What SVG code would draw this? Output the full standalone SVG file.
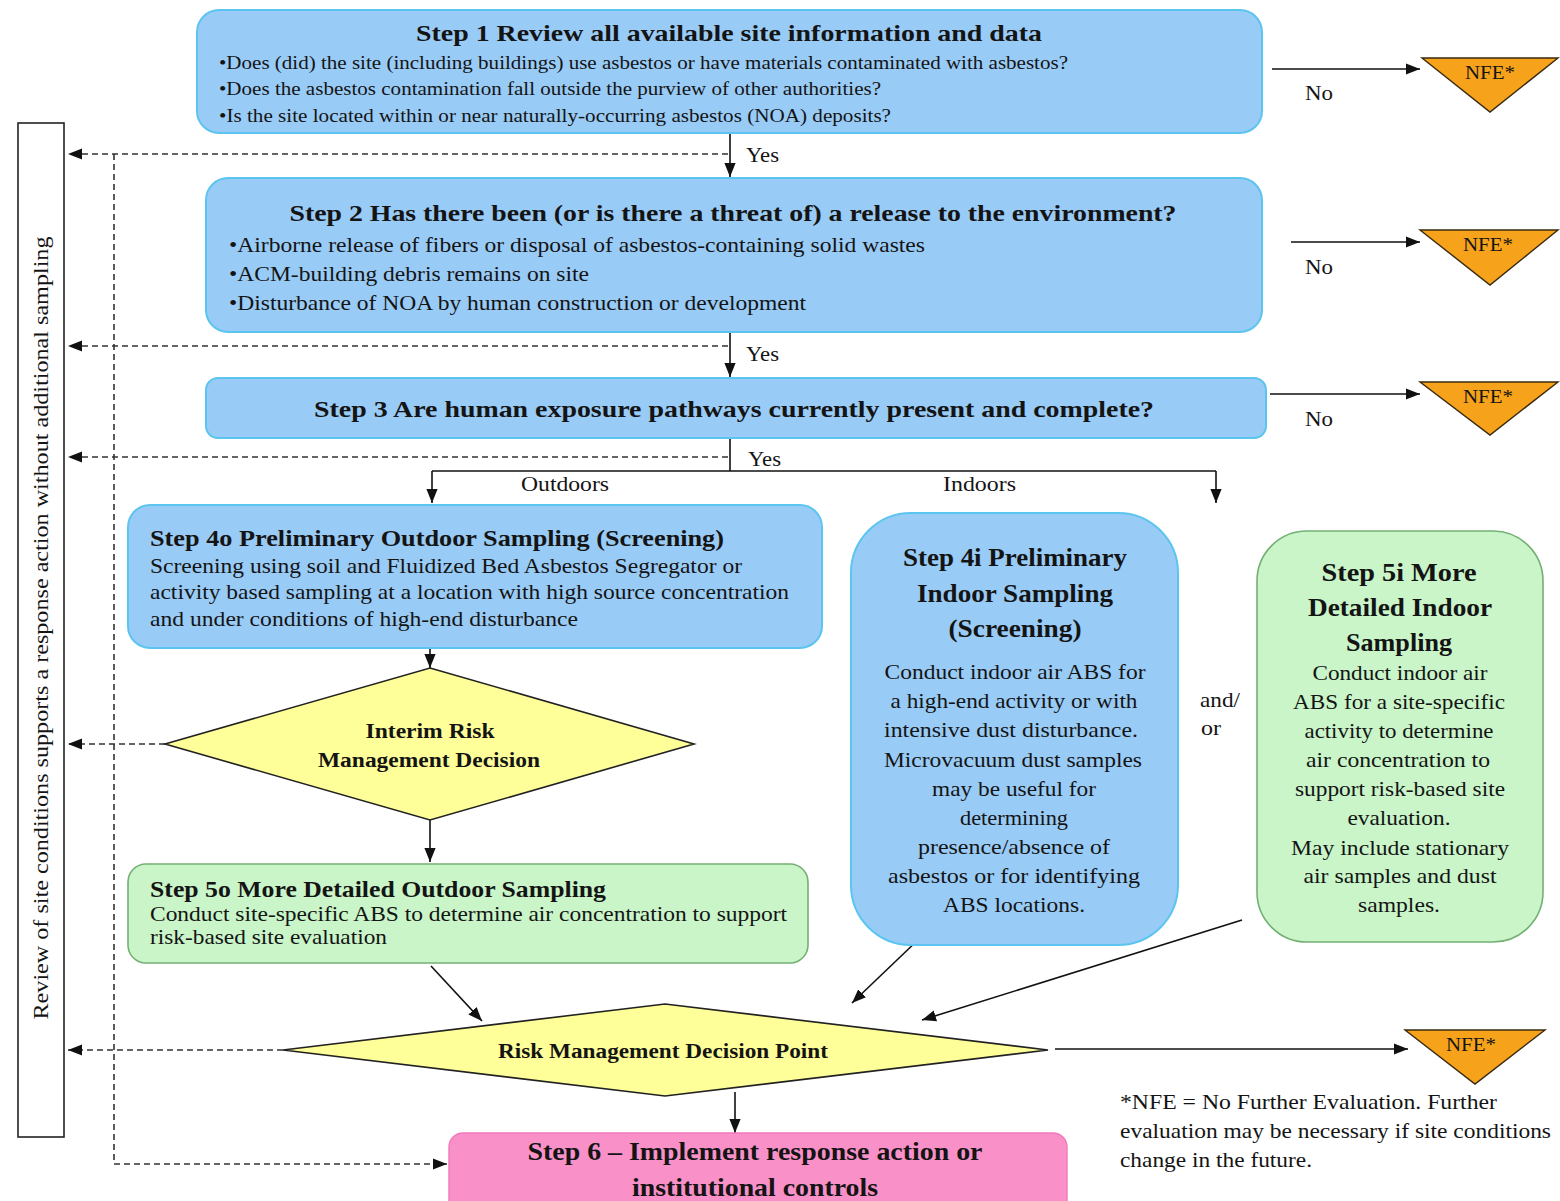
<svg xmlns="http://www.w3.org/2000/svg" width="1560" height="1201" viewBox="0 0 1560 1201" font-family="'Liberation Serif', 'DejaVu Serif', 'Times New Roman', serif">
<style>
text{font-family:'Liberation Serif','DejaVu Serif','Times New Roman',serif;fill:#141414}
.b{font-weight:bold}
.t{font-size:24px;font-weight:bold}
.s{font-size:19px}
.m{font-size:21px}
.c{text-anchor:middle}
.blue{fill:#99CBF7;stroke:#5CC5EF;stroke-width:2}
.green{fill:#C9F5C9;stroke:#74B074;stroke-width:1.6}
.dia{fill:#FFFF99;stroke:#222;stroke-width:1.6}
.nfe{fill:#F7A21B;stroke:#3a2a10;stroke-width:1.4}
.ln{fill:none;stroke:#111;stroke-width:1.6}
.dl{fill:none;stroke:#333;stroke-width:1.6;stroke-dasharray:6 4}
</style>
<defs>
<marker id="ah2" viewBox="0 0 10 10" refX="10" refY="5" markerWidth="14" markerHeight="14" markerUnits="userSpaceOnUse" orient="auto"><path d="M0,1 L10,5 L0,9 z" fill="#111"/></marker>
</defs>
<rect width="1560" height="1201" fill="#fff"/>

<g id="connectors">
<line class="ln" x1="1272" y1="69" x2="1420" y2="69" marker-end="url(#ah2)"/>
<line class="ln" x1="1291" y1="242" x2="1420" y2="242" marker-end="url(#ah2)"/>
<line class="ln" x1="1270" y1="394" x2="1420" y2="394" marker-end="url(#ah2)"/>
<line class="ln" x1="1055" y1="1049" x2="1408" y2="1049" marker-end="url(#ah2)"/>
<line class="ln" x1="730" y1="134" x2="730" y2="177" marker-end="url(#ah2)"/>
<line class="ln" x1="730" y1="333" x2="730" y2="377" marker-end="url(#ah2)"/>
<polyline class="ln" points="730,439 730,471"/>
<line class="ln" x1="432" y1="471" x2="1216" y2="471"/>
<line class="ln" x1="432" y1="471" x2="432" y2="503" marker-end="url(#ah2)"/>
<line class="ln" x1="1216" y1="471" x2="1216" y2="503" marker-end="url(#ah2)"/>
<line class="ln" x1="430" y1="649" x2="430" y2="668" marker-end="url(#ah2)"/>
<line class="ln" x1="430" y1="820" x2="430" y2="862" marker-end="url(#ah2)"/>
<line class="ln" x1="431" y1="966" x2="482" y2="1021" marker-end="url(#ah2)"/>
<line class="ln" x1="920" y1="938" x2="852" y2="1003" marker-end="url(#ah2)"/>
<line class="ln" x1="1242" y1="920" x2="922" y2="1020" marker-end="url(#ah2)"/>
<line class="ln" x1="735" y1="1092" x2="735" y2="1133" marker-end="url(#ah2)"/>
<line class="dl" x1="728" y1="154" x2="68" y2="154" marker-end="url(#ah2)"/>
<line class="dl" x1="728" y1="346" x2="68" y2="346" marker-end="url(#ah2)"/>
<line class="dl" x1="728" y1="457" x2="68" y2="457" marker-end="url(#ah2)"/>
<line class="dl" x1="165" y1="744" x2="68" y2="744" marker-end="url(#ah2)"/>
<line class="dl" x1="283" y1="1050" x2="68" y2="1050" marker-end="url(#ah2)"/>
<polyline class="dl" points="114,154 114,1164 447,1164" marker-end="url(#ah2)"/>
<text class="m" x="746" y="162" textLength="33" lengthAdjust="spacingAndGlyphs">Yes</text>
<text class="m" x="746" y="361" textLength="33" lengthAdjust="spacingAndGlyphs">Yes</text>
<text class="m" x="748" y="466" textLength="33" lengthAdjust="spacingAndGlyphs">Yes</text>
<text class="m" x="521" y="491" textLength="88" lengthAdjust="spacingAndGlyphs">Outdoors</text>
<text class="m" x="943" y="491" textLength="73" lengthAdjust="spacingAndGlyphs">Indoors</text>
<text class="m" x="1305" y="100" textLength="28" lengthAdjust="spacingAndGlyphs">No</text>
<text class="m" x="1305" y="274" textLength="28" lengthAdjust="spacingAndGlyphs">No</text>
<text class="m" x="1305" y="426" textLength="28" lengthAdjust="spacingAndGlyphs">No</text>
<text class="m" x="1200" y="707" textLength="40" lengthAdjust="spacingAndGlyphs">and/</text>
<text class="m" x="1201" y="735" textLength="20" lengthAdjust="spacingAndGlyphs">or</text>
</g>

<g id="review-box">
<rect x="18" y="123" width="46" height="1014" fill="#fff" stroke="#222" stroke-width="1.6"/>
<text class="m c" transform="translate(48,628) rotate(-90)" textLength="783" lengthAdjust="spacingAndGlyphs">Review  of  site conditions supports a response action without additional  sampling</text>
</g>

<g id="step1">
<rect class="blue" x="197" y="10" width="1065" height="123" rx="22"/>
<text class="t c" x="729" y="41" textLength="626" lengthAdjust="spacingAndGlyphs">Step 1 Review all available site information  and data</text>
<text class="s" x="219" y="69" textLength="849" lengthAdjust="spacingAndGlyphs">•Does (did) the site (including  buildings) use asbestos or have materials contaminated with asbestos?</text>
<text class="s" x="219" y="95" textLength="662" lengthAdjust="spacingAndGlyphs">•Does the asbestos contamination  fall outside the purview of other authorities?</text>
<text class="s" x="219" y="122" textLength="672" lengthAdjust="spacingAndGlyphs">•Is the site located within or near naturally-occurring  asbestos (NOA) deposits?</text>
</g>

<g id="step2">
<rect class="blue" x="206" y="178" width="1056" height="154" rx="22"/>
<text class="t c" x="733" y="221" textLength="887" lengthAdjust="spacingAndGlyphs">Step 2 Has there been (or is there a threat of) a release to the environment?</text>
<text class="m" x="229" y="252" textLength="696" lengthAdjust="spacingAndGlyphs">•Airborne release of fibers or disposal of asbestos-containing solid wastes</text>
<text class="m" x="229" y="281" textLength="360" lengthAdjust="spacingAndGlyphs">•ACM-building debris remains  on site</text>
<text class="m" x="229" y="310" textLength="577" lengthAdjust="spacingAndGlyphs">•Disturbance of NOA  by human construction or development</text>
</g>

<g id="step3">
<rect class="blue" x="206" y="378" width="1060" height="60" rx="12"/>
<text class="t c" x="734" y="417" textLength="840" lengthAdjust="spacingAndGlyphs">Step 3 Are human  exposure pathways  currently  present and complete?</text>
</g>

<g id="nfe1"><polygon class="nfe" points="1422,58 1558,58 1490,112"/><text class="s c" x="1490" y="79" textLength="50" lengthAdjust="spacingAndGlyphs">NFE*</text></g>
<g id="nfe2"><polygon class="nfe" points="1420,230 1558,230 1490,285"/><text class="s c" x="1488" y="251" textLength="50" lengthAdjust="spacingAndGlyphs">NFE*</text></g>
<g id="nfe3"><polygon class="nfe" points="1420,382 1558,382 1490,435"/><text class="s c" x="1488" y="403" textLength="50" lengthAdjust="spacingAndGlyphs">NFE*</text></g>
<g id="nfe4"><polygon class="nfe" points="1405,1030 1545,1030 1475,1084"/><text class="s c" x="1471" y="1051" textLength="50" lengthAdjust="spacingAndGlyphs">NFE*</text></g>

<g id="step4o">
<rect class="blue" x="128" y="505" width="694" height="143" rx="22"/>
<text class="b" x="150" y="546" font-size="24" textLength="574" lengthAdjust="spacingAndGlyphs">Step 4o  Preliminary Outdoor Sampling (Screening)</text>
<text class="m" x="150" y="573" textLength="592" lengthAdjust="spacingAndGlyphs">Screening  using soil and Fluidized  Bed  Asbestos Segregator or</text>
<text class="m" x="150" y="599" textLength="639" lengthAdjust="spacingAndGlyphs">activity based sampling at a location with high source concentration</text>
<text class="m" x="150" y="626" textLength="428" lengthAdjust="spacingAndGlyphs">and under conditions of high-end disturbance</text>
</g>

<g id="interim">
<polygon class="dia" points="430,668 694,744 430,820 165,744"/>
<text class="b c" x="430" y="738" font-size="20" textLength="129" lengthAdjust="spacingAndGlyphs">Interim  Risk</text>
<text class="b c" x="429" y="767" font-size="20" textLength="222" lengthAdjust="spacingAndGlyphs">Management  Decision</text>
</g>

<g id="step5o">
<rect class="green" x="128" y="864" width="680" height="99" rx="18"/>
<text class="b" x="150" y="897" font-size="24" textLength="456" lengthAdjust="spacingAndGlyphs">Step 5o More Detailed Outdoor Sampling</text>
<text class="m" x="150" y="921" textLength="637" lengthAdjust="spacingAndGlyphs">Conduct site-specific  ABS  to determine  air  concentration to support</text>
<text class="m" x="150" y="944" textLength="237" lengthAdjust="spacingAndGlyphs">risk-based site evaluation</text>
</g>

<g id="step4i">
<rect class="blue" x="851" y="513" width="327" height="432" rx="60"/>
<text class="b c" font-size="25" x="1015" y="566" textLength="224" lengthAdjust="spacingAndGlyphs">Step 4i Preliminary</text>
<text class="b c" font-size="25" x="1015" y="602" textLength="196" lengthAdjust="spacingAndGlyphs">Indoor  Sampling</text>
<text class="b c" font-size="25" x="1015" y="637" textLength="133" lengthAdjust="spacingAndGlyphs">(Screening)</text>
<text class="m c" x="1015" y="679" textLength="261" lengthAdjust="spacingAndGlyphs">Conduct indoor air ABS for</text>
<text class="m c" x="1014" y="708" textLength="247" lengthAdjust="spacingAndGlyphs">a high-end activity or with</text>
<text class="m c" x="1011" y="737" textLength="254" lengthAdjust="spacingAndGlyphs">intensive dust disturbance.</text>
<text class="m c" x="1013" y="767" textLength="258" lengthAdjust="spacingAndGlyphs">Microvacuum dust samples</text>
<text class="m c" x="1014" y="796" textLength="164" lengthAdjust="spacingAndGlyphs">may be useful for</text>
<text class="m c" x="1014" y="825" textLength="108" lengthAdjust="spacingAndGlyphs">determining</text>
<text class="m c" x="1014" y="854" textLength="192" lengthAdjust="spacingAndGlyphs">presence/absence of</text>
<text class="m c" x="1014" y="883" textLength="252" lengthAdjust="spacingAndGlyphs">asbestos or for identifying</text>
<text class="m c" x="1014" y="912" textLength="142" lengthAdjust="spacingAndGlyphs">ABS locations.</text>
</g>

<g id="step5i">
<rect class="green" x="1257" y="531" width="286" height="411" rx="50"/>
<text class="b c" font-size="25" x="1399" y="581" textLength="155" lengthAdjust="spacingAndGlyphs">Step 5i More</text>
<text class="b c" font-size="25" x="1400" y="616" textLength="184" lengthAdjust="spacingAndGlyphs">Detailed Indoor</text>
<text class="b c" font-size="25" x="1399" y="651" textLength="106" lengthAdjust="spacingAndGlyphs">Sampling</text>
<text class="m c" x="1400" y="680" textLength="175" lengthAdjust="spacingAndGlyphs">Conduct indoor air</text>
<text class="m c" x="1399" y="709" textLength="212" lengthAdjust="spacingAndGlyphs">ABS for a site-specific</text>
<text class="m c" x="1399" y="738" textLength="189" lengthAdjust="spacingAndGlyphs">activity to determine</text>
<text class="m c" x="1398" y="767" textLength="184" lengthAdjust="spacingAndGlyphs">air concentration to</text>
<text class="m c" x="1400" y="796" textLength="210" lengthAdjust="spacingAndGlyphs">support risk-based site</text>
<text class="m c" x="1399" y="825" textLength="103" lengthAdjust="spacingAndGlyphs">evaluation.</text>
<text class="m c" x="1400" y="855" textLength="218" lengthAdjust="spacingAndGlyphs">May include stationary</text>
<text class="m c" x="1400" y="883" textLength="193" lengthAdjust="spacingAndGlyphs">air samples and dust</text>
<text class="m c" x="1399" y="912" textLength="82" lengthAdjust="spacingAndGlyphs">samples.</text>
</g>

<g id="rmdp">
<polygon class="dia" points="665,1004 1048,1050 665,1096 283,1050"/>
<text class="b c" x="663" y="1058" font-size="20" textLength="330" lengthAdjust="spacingAndGlyphs">Risk Management  Decision Point</text>
</g>

<g id="step6">
<rect x="449" y="1133" width="618" height="90" rx="14" fill="#F991C8" stroke="#F07ABA" stroke-width="1.4"/>
<text class="b c" x="755" y="1160" font-size="25" textLength="455" lengthAdjust="spacingAndGlyphs">Step 6 – Implement  response action  or</text>
<text class="b c" x="755" y="1196" font-size="25" textLength="246" lengthAdjust="spacingAndGlyphs">institutional  controls</text>
</g>

<g id="footnote">
<text class="m" x="1120" y="1109" textLength="377" lengthAdjust="spacingAndGlyphs">*NFE = No Further Evaluation.  Further</text>
<text class="m" x="1120" y="1138" textLength="431" lengthAdjust="spacingAndGlyphs">evaluation may be necessary if site conditions</text>
<text class="m" x="1120" y="1167" textLength="192" lengthAdjust="spacingAndGlyphs">change in the future.</text>
</g>
</svg>
